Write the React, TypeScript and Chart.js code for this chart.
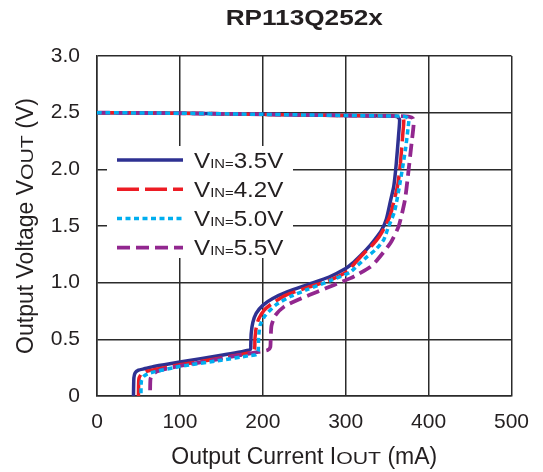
import React, { useEffect, useRef } from 'react';
import { Chart, registerables } from 'chart.js';

Chart.register(...registerables);

// ---- data ----
const TITLE = 'RP113Q252x';
const X_TICK_LABELS = ['0', '100', '200', '300', '400', '500'];
const Y_TICK_LABELS = ['0', '0.5', '1.0', '1.5', '2.0', '2.5', '3.0'];
const SERIES_VIN = ['3.5V', '4.2V', '5.0V', '5.5V'];

// VIN = 3.5V
const I_35 = [0, 100, 200, 300, 355, 362, 365, 364, 361, 358, 354, 349, 343, 334, 326, 318, 308, 300, 280, 255, 230, 212, 200, 192, 188, 186, 185.5, 185, 150, 100, 70, 57, 50, 46, 44.5, 44];
const V_35 = [2.5, 2.495, 2.485, 2.475, 2.47, 2.465, 2.44, 2.32, 2.05, 1.85, 1.72, 1.56, 1.46, 1.37, 1.3, 1.24, 1.17, 1.125, 1.05, 0.985, 0.92, 0.86, 0.8, 0.73, 0.65, 0.55, 0.45, 0.41, 0.36, 0.3, 0.262, 0.24, 0.228, 0.205, 0.16, 0];

// VIN = 4.2V
const I_42 = [0, 100, 200, 300, 355, 366, 370, 369, 366, 363, 359, 354, 348, 340, 332, 322, 312, 302, 280, 255, 228, 212, 202, 195, 192, 190.5, 190, 186, 150, 100, 70, 59, 53, 50.5, 50];
const V_42 = [2.5, 2.495, 2.485, 2.475, 2.47, 2.465, 2.44, 2.32, 2.05, 1.87, 1.74, 1.6, 1.5, 1.4, 1.33, 1.26, 1.18, 1.1, 1.02, 0.96, 0.89, 0.82, 0.76, 0.68, 0.6, 0.5, 0.41, 0.385, 0.335, 0.275, 0.235, 0.215, 0.19, 0.15, 0];

// VIN = 5.0V
const I_50 = [0, 100, 200, 300, 360, 372, 376, 375.5, 372, 366, 359, 351, 346, 336, 326, 314, 305, 282, 254, 234, 215, 203, 197, 195, 194.5, 192, 183, 150, 100, 70, 61, 56, 53.5, 53];
const V_50 = [2.5, 2.495, 2.485, 2.475, 2.47, 2.465, 2.44, 2.38, 2.17, 1.9, 1.63, 1.48, 1.38, 1.29, 1.23, 1.15, 1.09, 1.02, 0.94, 0.88, 0.8, 0.71, 0.63, 0.52, 0.4, 0.365, 0.355, 0.315, 0.26, 0.215, 0.195, 0.17, 0.13, 0];

// VIN = 5.5V
const I_55 = [0, 100, 200, 300, 360, 376, 381, 382, 379.5, 375.5, 371.5, 364, 354, 338, 330, 314, 306, 286, 266, 246, 226, 215, 210.5, 209.5, 209, 206, 195, 150, 100, 80, 72, 67, 64.5, 64];
const V_55 = [2.5, 2.495, 2.485, 2.475, 2.47, 2.465, 2.45, 2.4, 2.23, 1.97, 1.73, 1.5, 1.35, 1.2, 1.14, 1.07, 1.04, 0.98, 0.92, 0.86, 0.79, 0.71, 0.62, 0.5, 0.43, 0.405, 0.39, 0.33, 0.265, 0.235, 0.215, 0.19, 0.15, 0];

const COLORS = ['#2e3192', '#ed1c24', '#00aeef', '#92278f'];
const DASHES: number[][] = [[], [22, 6], [5, 3.5], [13, 6]];
const WIDTHS = [3.5, 3.5, 3.5, 3.8];
const ORDERS = [4, 3, 1, 2];

const FONT = '"Liberation Sans", Arial, Helvetica, sans-serif';

function pts(xs: number[], ys: number[]) {
  return xs.map((x, i) => ({ x, y: ys[i] }));
}

function seg(ctx: CanvasRenderingContext2D, text: string, x: number, y: number, size: number, sx: number, bold = false) {
  ctx.save();
  ctx.font = `${bold ? 'bold ' : ''}${size}px ${FONT}`;
  const w = ctx.measureText(text).width * sx;
  ctx.translate(x, y);
  ctx.scale(sx, 1);
  ctx.fillText(text, 0, 0);
  ctx.restore();
  return w;
}

function width(ctx: CanvasRenderingContext2D, text: string, size: number, sx: number, bold = false) {
  ctx.save();
  ctx.font = `${bold ? 'bold ' : ''}${size}px ${FONT}`;
  const w = ctx.measureText(text).width * sx;
  ctx.restore();
  return w;
}

const decor = {
  id: 'decor',
  beforeDatasetsDraw(chart: any) {
    const ctx: CanvasRenderingContext2D = chart.ctx;
    const ca = chart.chartArea;
    ctx.save();
    // legend box (white, hides grid)
    const bx = ca.left + 10;
    const by = ca.top + 90;
    ctx.fillStyle = '#ffffff';
    ctx.fillRect(bx, by, 186, 112);
    for (let i = 0; i < SERIES_VIN.length; i++) {
      const y = ca.top + 104 + i * 29.2;
      ctx.beginPath();
      ctx.strokeStyle = COLORS[i];
      ctx.lineWidth = WIDTHS[i];
      ctx.setLineDash(DASHES[i]);
      ctx.moveTo(ca.left + 20, y);
      ctx.lineTo(ca.left + 86, y);
      ctx.stroke();
      ctx.setLineDash([]);
      ctx.fillStyle = '#231f20';
      ctx.textBaseline = 'alphabetic';
      let x = ca.left + 97;
      const base = y + 7.5;
      x += seg(ctx, 'V', x, base, 22, 1.1);
      x += seg(ctx, 'IN', x, base, 13.5, 1.1);
      x += seg(ctx, '=', x, base, 13.5, 1.1);
      seg(ctx, SERIES_VIN[i], x, base, 22, 1.1);
    }
    ctx.restore();
  },
  afterDraw(chart: any) {
    const ctx: CanvasRenderingContext2D = chart.ctx;
    const ca = chart.chartArea;
    const cx = (ca.left + ca.right) / 2;
    const cy = (ca.top + ca.bottom) / 2;
    ctx.save();
    ctx.fillStyle = '#231f20';
    ctx.textBaseline = 'alphabetic';
    // title
    const tw = width(ctx, TITLE, 22, 1.19, true);
    seg(ctx, TITLE, cx - tw / 2, 25, 22, 1.19, true);

    // x axis title
    const xa = 'Output Current I';
    const xb = 'OUT';
    const xc = ' (mA)';
    const xw = width(ctx, xa, 23, 1) + width(ctx, xb, 17, 1.25) + width(ctx, xc, 23, 1);
    let x = cx - xw / 2;
    const xBase = 464;
    x += seg(ctx, xa, x, xBase, 23, 1);
    x += seg(ctx, xb, x, xBase, 17, 1.25);
    seg(ctx, xc, x, xBase, 23, 1);

    // y axis title (rotated)
    const ya = 'Output Voltage V';
    const yb = 'OUT';
    const yc = ' (V)';
    const yw = width(ctx, ya, 23, 1) + width(ctx, yb, 17, 1.25) + width(ctx, yc, 23, 1);
    ctx.save();
    ctx.translate(33, cy);
    ctx.rotate(-Math.PI / 2);
    let p = -yw / 2;
    p += seg(ctx, ya, p, 0, 23, 1);
    p += seg(ctx, yb, p, 0, 17, 1.25);
    seg(ctx, yc, p, 0, 23, 1);
    ctx.restore();
    ctx.restore();
  },
};

export default function App() {
  const ref = useRef<HTMLCanvasElement | null>(null);

  useEffect(() => {
    if (!ref.current) return;
    const series = [pts(I_35, V_35), pts(I_42, V_42), pts(I_50, V_50), pts(I_55, V_55)];
    const chart = new Chart(ref.current, {
      type: 'line',
      data: {
        datasets: series.map((d, i) => ({
          label: 'VIN=' + SERIES_VIN[i],
          data: d,
          borderColor: COLORS[i],
          backgroundColor: COLORS[i],
          borderWidth: WIDTHS[i],
          borderDash: DASHES[i],
          borderCapStyle: 'butt',
          pointRadius: 0,
          tension: 0.2,
          fill: false,
          order: ORDERS[i],
        })),
      },
      options: {
        responsive: false,
        animation: false,
        layout: { padding: { top: 56, right: 27, left: 0, bottom: 0 } },
        plugins: {
          legend: { display: false },
          title: { display: false },
          tooltip: { enabled: false },
        },
        scales: {
          x: {
            type: 'linear',
            min: 0,
            max: 500,
            ticks: {
              stepSize: 100,
              padding: 14,
              color: '#231f20',
              font: { family: FONT, size: 21 },
              callback: (_v: any, i: number) => X_TICK_LABELS[i],
            },
            grid: { color: '#2b2b2b', lineWidth: 1.5, drawTicks: false },
            border: { color: '#2b2b2b', width: 1.5 },
            afterFit: (s: any) => {
              s.height = 76;
            },
          },
          y: {
            type: 'linear',
            min: 0,
            max: 3,
            ticks: {
              stepSize: 0.5,
              padding: 17,
              color: '#231f20',
              font: { family: FONT, size: 21 },
              callback: (_v: any, i: number) => Y_TICK_LABELS[i],
            },
            grid: { color: '#2b2b2b', lineWidth: 1.5, drawTicks: false },
            border: { color: '#2b2b2b', width: 1.5 },
            afterFit: (s: any) => {
              s.width = 97;
            },
          },
        },
      },
      plugins: [decor],
    } as any);
    return () => chart.destroy();
  }, []);

  return (
    <div style={{ position: 'absolute', left: 0, top: 0, width: 543, height: 472, background: '#fff' }}>
      <canvas ref={ref} width={543} height={472} />
    </div>
  );
}
